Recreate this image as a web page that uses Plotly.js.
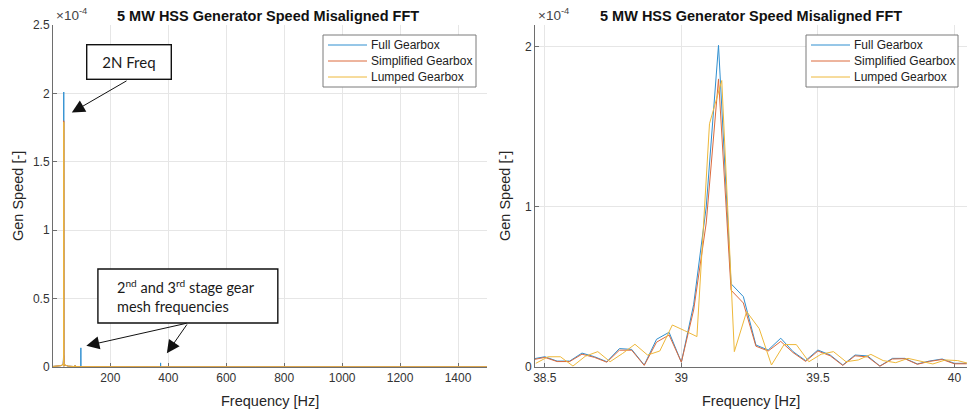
<!DOCTYPE html>
<html>
<head>
<meta charset="utf-8">
<script src="https://cdn.plot.ly/plotly-3.0.1.min.js"></script>
<style>html,body{margin:0;padding:0;background:#fff;}#chart{width:969px;height:415px;}</style>
</head>
<body>
<div id="chart"></div>
<script>
// ---- Data (Gen Speed values in units of 1e-4) ----
const seriesNames = ['Full Gearbox', 'Simplified Gearbox', 'Lumped Gearbox'];
const seriesColors = ['#2f8fd0', '#dc6a3c', '#eeb83a'];

// zoomed window around 2N frequency (~39.14 Hz)
const zoomFreq = [38.455, 38.5, 38.545, 38.591, 38.636, 38.682, 38.727, 38.773, 38.818, 38.864, 38.909, 38.955,
  39.0, 39.045, 39.091, 39.136, 39.182, 39.227, 39.273, 39.318, 39.364, 39.409, 39.455, 39.5,
  39.545, 39.591, 39.636, 39.682, 39.727, 39.773, 39.818, 39.864, 39.909, 39.955, 40.0, 40.045];
const lumpedZoomFreq = [38.467, 38.512, 38.557, 38.603, 38.648, 38.694, 38.739, 38.785, 38.830, 38.876, 38.921, 38.967,
  39.012, 39.057, 39.103, 39.148, 39.194, 39.239, 39.285, 39.330, 39.376, 39.421, 39.467, 39.512,
  39.557, 39.603, 39.648, 39.694, 39.739, 39.785, 39.830, 39.876, 39.921, 39.967, 40.012, 40.057];
const fullZoom = [0.05, 0.064, 0.037, 0.037, 0.087, 0.064, 0.033, 0.115, 0.11, 0.0125, 0.173, 0.217,
  0.03, 0.39, 1.0, 2.01, 0.52, 0.44, 0.1375, 0.106, 0.18, 0.096, 0.04, 0.106,
  0.075, 0.0125, 0.075, 0.069, 0.006, 0.054, 0.054, 0.019, 0.0375, 0.05, 0.023, 0.023];
const simplifiedZoom = [0.045, 0.06, 0.034, 0.034, 0.08, 0.06, 0.03, 0.105, 0.105, 0.01, 0.155, 0.2,
  0.03, 0.356, 0.9, 1.8, 0.48, 0.40, 0.13, 0.1, 0.16, 0.09, 0.035, 0.1,
  0.07, 0.01, 0.07, 0.063, 0.005, 0.05, 0.052, 0.017, 0.035, 0.047, 0.02, 0.02];
const lumpedZoom = [0.023, 0.064, 0.064, 0.006, 0.067, 0.096, 0.033, 0.085, 0.142, 0.075, 0.1, 0.2625,
  0.227, 0.19, 1.52, 1.79, 0.096, 0.346, 0.24, 0.0125, 0.14, 0.14, 0.033, 0.08,
  0.096, 0.033, 0.044, 0.079, 0.04, 0.027, 0.054, 0.0375, 0.019, 0.044, 0.04, 0.02];

// rest of the broadband spectrum (outside zoom window)
const wideFreq = [2, 15, 30, 37, 42, 55, 77.5, 78.3, 79.1, 97.8, 98.2, 98.6, 373.0, 373.4, 373.8, 700, 1500];
const fullWide = [0.004, 0.006, 0.01, 0.02, 0.015, 0.006, 0.003, 0.012, 0.003, 0.002, 0.14, 0.002, 0.001, 0.03, 0.001, 0.001, 0.001];
const simplifiedWide = [0.004, 0.006, 0.01, 0.02, 0.015, 0.006, 0.003, 0.012, 0.003, 0.002, 0.004, 0.002, 0.001, 0.002, 0.001, 0.001, 0.001];
const lumpedWide = [0.004, 0.006, 0.01, 0.02, 0.015, 0.006, 0.003, 0.012, 0.003, 0.002, 0.003, 0.002, 0.001, 0.002, 0.001, 0.001, 0.001];

const leftXTicks = [200, 400, 600, 800, 1000, 1200, 1400];
const leftYTicks = [0, 0.5, 1, 1.5, 2, 2.5];
const rightXTicks = [38.5, 39, 39.5, 40];
const rightYTicks = [0, 1, 2];

// ---- Build ----
function merge(xa, ya, xb, yb) {
  const pts = xa.map((x, i) => [x, ya[i]]).concat(xb.map((x, i) => [x, yb[i]]));
  pts.sort((p, q) => p[0] - q[0]);
  return {x: pts.map(p => p[0]), y: pts.map(p => p[1])};
}
const leftSets = [
  merge(wideFreq, fullWide, zoomFreq, fullZoom),
  merge(wideFreq, simplifiedWide, zoomFreq, simplifiedZoom),
  merge(wideFreq, lumpedWide, lumpedZoomFreq, lumpedZoom)
];
const rightSets = [
  {x: zoomFreq, y: fullZoom},
  {x: zoomFreq, y: simplifiedZoom},
  {x: lumpedZoomFreq, y: lumpedZoom}
];

const traces = [];
leftSets.forEach((s, i) => traces.push({
  x: s.x, y: s.y, type: 'scatter', mode: 'lines', name: seriesNames[i], showlegend: false,
  line: {color: seriesColors[i], width: 1}, xaxis: 'x', yaxis: 'y'
}));
rightSets.forEach((s, i) => traces.push({
  x: s.x, y: s.y, type: 'scatter', mode: 'lines', name: seriesNames[i], showlegend: false,
  line: {color: seriesColors[i], width: 1}, xaxis: 'x2', yaxis: 'y2'
}));

const W = 969, H = 415;
const px = v => v / W, py = v => 1 - v / H;
const FONT = 'Liberation Sans, Arial, Helvetica, sans-serif';
const tickFont = {family: FONT, size: 12, color: '#333333'};
const axisBase = {
  showgrid: true, gridcolor: '#e6e6e6', gridwidth: 1,
  showline: true, linecolor: '#6e6e6e', linewidth: 1,
  ticks: 'inside', ticklen: 4, tickcolor: '#6e6e6e',
  tickfont: tickFont, zeroline: false, mirror: false, layer: 'below traces', fixedrange: true
};
const yDomain = [py(367), py(25)];

const titleText = '<b>5 MW HSS Generator Speed Misaligned FFT</b>';
const annFont = {family: 'Lato, Carlito, sans-serif', size: 14.5, color: '#1a1a1a'};
const labelFont = {family: FONT, size: 14.5, color: '#262626'};

const annotations = [
  {xref: 'paper', yref: 'paper', x: px(268), y: py(16), text: titleText, showarrow: false,
   xanchor: 'center', yanchor: 'middle', font: {family: FONT, size: 14.5, color: '#111'}},
  {xref: 'paper', yref: 'paper', x: px(751), y: py(16), text: titleText, showarrow: false,
   xanchor: 'center', yanchor: 'middle', font: {family: FONT, size: 14.5, color: '#111'}},
  {xref: 'paper', yref: 'paper', x: px(54), y: py(14), text: '×10<sup>-4</sup>', showarrow: false,
   xanchor: 'left', yanchor: 'middle', font: {family: FONT, size: 13.5, color: '#444'}},
  {xref: 'paper', yref: 'paper', x: px(536), y: py(14), text: '×10<sup>-4</sup>', showarrow: false,
   xanchor: 'left', yanchor: 'middle', font: {family: FONT, size: 13.5, color: '#444'}},
  {xref: 'paper', yref: 'paper', x: px(18), y: py(196), text: 'Gen Speed [-]', showarrow: false, textangle: -90,
   xanchor: 'center', yanchor: 'middle', font: labelFont},
  {xref: 'paper', yref: 'paper', x: px(505), y: py(196), text: 'Gen Speed [-]', showarrow: false, textangle: -90,
   xanchor: 'center', yanchor: 'middle', font: labelFont},
  {xref: 'paper', yref: 'paper', x: px(270), y: py(401), text: 'Frequency [Hz]', showarrow: false,
   xanchor: 'center', yanchor: 'middle', font: labelFont},
  {xref: 'paper', yref: 'paper', x: px(751), y: py(401), text: 'Frequency [Hz]', showarrow: false,
   xanchor: 'center', yanchor: 'middle', font: labelFont},
  // arrows (2N Freq)
  {xref: 'x', yref: 'y', axref: 'x', ayref: 'y', x: 67, y: 1.86, ax: 261, ay: 2.098, text: '',
   showarrow: true, arrowhead: 2, arrowsize: 2.6, arrowwidth: 1, arrowcolor: '#111'},
  // arrows (gear mesh)
  {xref: 'x', yref: 'y', axref: 'x', ayref: 'y', x: 117, y: 0.155, ax: 468, ay: 0.322, text: '',
   showarrow: true, arrowhead: 2, arrowsize: 2.6, arrowwidth: 1, arrowcolor: '#111'},
  {xref: 'x', yref: 'y', axref: 'x', ayref: 'y', x: 395, y: 0.1, ax: 468, ay: 0.322, text: '',
   showarrow: true, arrowhead: 2, arrowsize: 2.6, arrowwidth: 1, arrowcolor: '#111'},
  // boxed labels
  {xref: 'x', yref: 'y', x: 266, y: 2.226, text: '2N Freq', showarrow: false, width: 83, height: 33,
   borderpad: 0, bordercolor: '#111', borderwidth: 1.4, bgcolor: '#ffffff',
   font: {family: 'Lato, Carlito, sans-serif', size: 15, color: '#1a1a1a'},
   xanchor: 'center', yanchor: 'middle'},
  {xref: 'x', yref: 'y', x: 216, y: 0.519, text: '2<sup>nd</sup> and 3<sup>rd</sup> stage gear<br>mesh frequencies',
   showarrow: false, align: 'left', xanchor: 'left', yanchor: 'middle', font: annFont}
];

const shapes = [
  // box around the gear-mesh label
  {type: 'rect', xref: 'x', yref: 'y', x0: 157, x1: 778, y0: 0.322, y1: 0.716,
   line: {color: '#111', width: 1.4}, fillcolor: '#ffffff', layer: 'above'}
];

// ---- legends (drawn as boxes, sample lines and labels) ----
const legendBoxes = [{x0: 323, x1: 476}, {x0: 806, x1: 958}];
const legendRows = [45, 61, 77];
legendBoxes.forEach(b => {
  shapes.push({type: 'rect', xref: 'paper', yref: 'paper', x0: px(b.x0), x1: px(b.x1), y0: py(87), y1: py(35),
    line: {color: '#7a7a7a', width: 1}, fillcolor: '#ffffff', layer: 'above'});
  seriesNames.forEach((n, i) => {
    shapes.push({type: 'line', xref: 'paper', yref: 'paper', x0: px(b.x0 + 5), x1: px(b.x0 + 44),
      y0: py(legendRows[i]), y1: py(legendRows[i]), line: {color: seriesColors[i], width: 1}, layer: 'above'});
    annotations.push({xref: 'paper', yref: 'paper', x: px(b.x0 + 46), y: py(legendRows[i]), text: n,
      showarrow: false, xanchor: 'left', yanchor: 'middle', font: {family: FONT, size: 12, color: '#222'}});
  });
});

const layout = {
  width: W, height: H, margin: {l: 0, r: 0, t: 0, b: 0},
  paper_bgcolor: '#ffffff', plot_bgcolor: '#ffffff',
  showlegend: false,
  xaxis: Object.assign({}, axisBase, {domain: [px(53), px(487)], range: [2, 1500], tickvals: leftXTicks, anchor: 'y'}),
  yaxis: Object.assign({}, axisBase, {domain: yDomain, range: [0, 2.5], tickvals: leftYTicks, anchor: 'x'}),
  xaxis2: Object.assign({}, axisBase, {domain: [px(535), px(967)], range: [38.464, 40.046], tickvals: rightXTicks, anchor: 'y2'}),
  yaxis2: Object.assign({}, axisBase, {domain: yDomain, range: [0, 2.137], tickvals: rightYTicks, anchor: 'x2'}),
  shapes: shapes,
  annotations: annotations
};

Plotly.newPlot('chart', traces, layout, {displayModeBar: false, staticPlot: true});
</script>
</body>
</html>
